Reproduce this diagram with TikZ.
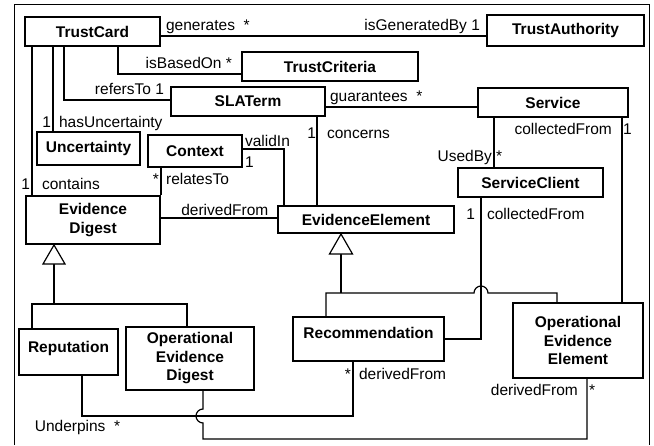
\documentclass[tikz,border=0pt]{standalone}
\usepackage{fontspec}
\setmainfont{Liberation Sans}

\tikzset{
  cls/.style={draw, line width=2pt, align=center, inner sep=0pt,
    font=\fontsize{15.5}{18.5}\selectfont\bfseries},
  assoc/.style={line width=1.2pt},
  lbl/.style={font=\fontsize{15.5}{18}\selectfont, inner sep=1.5pt,
    text height=11pt, text depth=3.5pt},
  gen/.style={draw, line width=1.2pt, fill=white},
}

\begin{document}
\begin{tikzpicture}[x=1pt, y=-1pt]
\useasboundingbox (0,0) rectangle (654,445);
\draw[line width=1pt] (14,445) |- (649,4) -- (649,445);

% classes
\node[cls, minimum width=135, minimum height=29] (trustcard) at (92.5,31.5) {TrustCard};
\node[cls, minimum width=157, minimum height=31] (trustauth) at (565.5,30.5) {TrustAuthority};
\node[cls, minimum width=176, minimum height=29] (criteria) at (330,66.5) {TrustCriteria};
\node[cls, minimum width=154, minimum height=29] (slaterm) at (248,101.5) {SLATerm};
\node[cls, minimum width=150, minimum height=29] (service) at (553,102.5) {Service};
\node[cls, minimum width=103, minimum height=33] (uncertainty) at (88.5,148.5) {Uncertainty};
\node[cls, minimum width=94, minimum height=32] (context) at (195,151) {Context};
\node[cls, minimum width=134, minimum height=48] (digest) at (93,220) {Evidence\\Digest};
\node[cls, minimum width=176, minimum height=27] (evelem) at (366,219.5) {EvidenceElement};
\node[cls, minimum width=145, minimum height=29] (client) at (530.5,182.5) {ServiceClient};
\node[cls, minimum width=99, minimum height=46, text depth=10pt] (reputation) at (68.5,352) {Reputation};
\node[cls, minimum width=128, minimum height=63] (opdigest) at (190,358.5) {Operational\\Evidence\\Digest};
\node[cls, minimum width=151, minimum height=44, text depth=12pt] (recommend) at (368.5,339) {Recommendation};
\node[cls, minimum width=130, minimum height=75] (opelem) at (578,340.5) {Operational\\Evidence\\Element};

% helper points
\coordinate (hasu) at ([xshift=-39.5]trustcard.south);
\coordinate (cont) at ([xshift=-60.5]trustcard.south);
\coordinate (conc) at ([xshift=69]slaterm.south);
\coordinate (ddf) at ([yshift=2]digest.east);
\coordinate (usedby) at ([xshift=-59]service.south);
\coordinate (colf) at ([xshift=69]service.south);
\coordinate (cfx) at ([xshift=-49.5]client.south);
\coordinate (eebus) at ([xshift=-25,yshift=-59]evelem.south);
\coordinate (eejump) at (eebus -| cfx);
\coordinate (edbus) at ([xshift=-39,yshift=-59]digest.south);
\coordinate (recx) at ([xshift=-15.5]recommend.south);
\coordinate (undc) at ([xshift=-15.5,yshift=-54]recommend.south);
\coordinate (odx) at ([xshift=13]opdigest.south);
\coordinate (odjump) at (odx |- undc);

% associations
\draw[assoc] ([yshift=-4.5]trustcard.east) coordinate (gen1)
  node[lbl, above right, xshift=3] {generates\ \ *}
  -- (gen1 -| trustauth.west)
  node[lbl, above left, xshift=-4] {isGeneratedBy 1};
\draw[assoc] ([xshift=25.5]trustcard.south) |- ([yshift=-7.5]criteria.west)
  node[lbl, above left, xshift=-7] {isBasedOn *};
\draw[assoc] ([xshift=-28.5]trustcard.south) |- ([yshift=1.5]slaterm.west)
  node[lbl, above left, xshift=-4] {refersTo 1};
\draw[assoc] ([yshift=-5.5]slaterm.east) coordinate (gua)
  node[lbl, above right, xshift=2] {guarantees\ \ *}
  -- (gua -| service.west);
\draw[assoc] (conc)
  node[lbl, below left, yshift=-8.5, xshift=1] {1}
  node[lbl, below right, yshift=-8.5, xshift=8] {concerns}
  -- (conc |- evelem.north);
\draw[assoc] (hasu) -- (hasu |- uncertainty.north)
  node[lbl, above left, yshift=-2] {1}
  node[lbl, above right, yshift=-2, xshift=4] {hasUncertainty};
\draw[assoc] (cont) -- (cont |- digest.north)
  node[lbl, above left] {1}
  node[lbl, above right, xshift=8] {contains};
\draw[assoc] (context.south -| digest.north east)
  node[lbl, below left, yshift=-3.5] {*}
  node[lbl, below right, yshift=-3.5, xshift=3] {relatesTo}
  -- (digest.north east);
\draw[assoc] ([yshift=2]context.east)
  node[lbl, above right, yshift=-3.5] {validIn}
  node[lbl, below right, yshift=-5.5] {1}
  -| ([xshift=-82]evelem.north);
\draw[assoc] (ddf) -- node[lbl, above, pos=0.55, yshift=-3] {derivedFrom} (ddf -| evelem.west);
\draw[assoc] (usedby) -- (usedby |- client.north)
  node[lbl, above left] {UsedBy}
  node[lbl, above right] {*};
\draw[assoc] (colf)
  node[lbl, below left, xshift=-8, yshift=-3.5] {collectedFrom}
  node[lbl, below right, xshift=-1, yshift=-3.5] {1}
  -- (colf |- opelem.north);
\draw[assoc] (cfx)
  node[lbl, below left, yshift=-8.5, xshift=-4] {1}
  node[lbl, below right, yshift=-8.5, xshift=4] {collectedFrom}
  |- (recommend.east);
\draw[assoc] ([xshift=13.5]reputation.south)
  |- node[lbl, below, pos=0.5, xshift=-4.5, yshift=-2.5] {Underpins\ \ *} (undc)
  -- (recx)
  node[lbl, below left, yshift=-4.5] {*}
  node[lbl, below right, yshift=-4.5, xshift=4] {derivedFrom};
\draw[assoc] (odx) -- ([yshift=7]odjump)
  arc[start angle=90, end angle=270, radius=7pt]
  -- ([yshift=-48]odx) -| ([xshift=9]opelem.south)
  node[lbl, below left, xshift=-7, yshift=-3.5] {derivedFrom}
  node[lbl, below right, yshift=-3.5] {*};

% generalisations
\draw[assoc] ([xshift=-25]evelem.south) ++(0,20) -- (eebus);
\draw[assoc] ([xshift=-42.5]recommend.north) |- ([xshift=-7]eejump)
  arc[start angle=180, end angle=0, radius=7pt]
  -| ([xshift=-21]opelem.north);
\draw[gen] ([xshift=-25]evelem.south) -- ++(-11.5,20) -- ++(23,0) -- cycle;
\draw[assoc] ([xshift=-39]digest.south) ++(0,19) -- (edbus);
\draw[assoc] ([xshift=-36.5]reputation.north) |- (edbus) -| ([xshift=-3]opdigest.north);
\draw[gen] ([xshift=-39]digest.south) -- ++(-11,19) -- ++(22,0) -- cycle;
\end{tikzpicture}
\end{document}
